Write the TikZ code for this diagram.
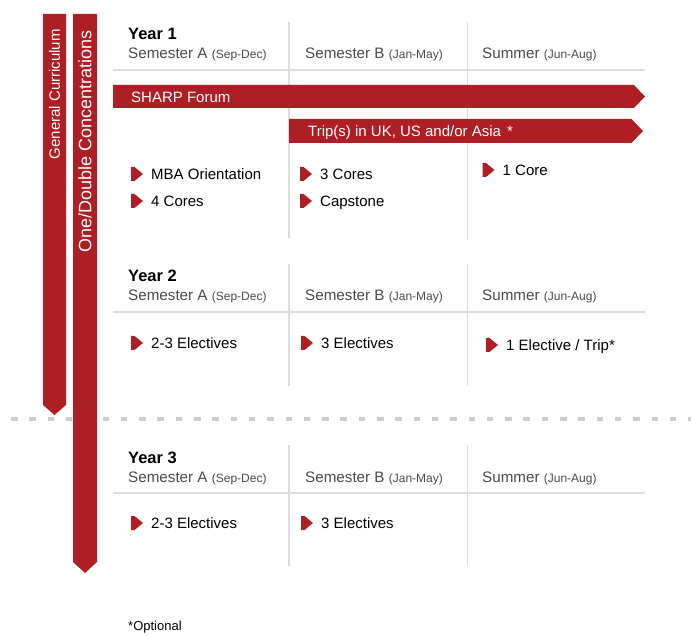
\documentclass[tikz,border=0pt]{standalone}
\usepackage{fontspec}
\setmainfont{Liberation Sans}

\definecolor{sharpred}{HTML}{AD1F25}
\definecolor{gridgray}{HTML}{DCDCDC}
\definecolor{semgray}{HTML}{4A4A4A}
\definecolor{dashgray}{HTML}{CDCDCD}

\newcommand{\months}[1]{{\fontsize{12}{14}\selectfont(#1)}}

\begin{document}
\begin{tikzpicture}[x=1pt, y=-1pt]

    \useasboundingbox (0,0) rectangle (691,636);

    \tikzset{yearstyle/.style={anchor=base west, inner sep=0, font=\fontsize{16.5}{18}\selectfont\bfseries}}
    \tikzset{semstyle/.style={anchor=base west, inner sep=0, text=semgray, font=\fontsize{15.2}{18}\selectfont}}
    \tikzset{itemstyle/.style={anchor=west, inner sep=0, text height=11pt, text depth=0pt, font=\fontsize{15}{18}\selectfont}}
    \tikzset{bandtext/.style={anchor=west, inner sep=0, text height=11pt, text depth=0pt, text=white, font=\fontsize{15}{18}\selectfont}}
    \tikzset{sidetext/.style={anchor=east, inner sep=0, rotate=90, text=white}}
    \tikzset{gridline/.style={draw=gridgray, line width=1.5pt}}
    \tikzset{itemmark/.pic={\fill[sharpred] (-0.5,-7) -- (3,-7) -- (11.5,0) -- (3,7) -- (-0.5,7) -- cycle;}}

    % dashed separator
    \draw[dashgray, line width=3.5pt, dash pattern=on 6.5pt off 11.8pt] (11,419) -- (691,419);

    % side bars
    \fill[sharpred] (43,14) -- (66,14) -- (66,405) -- (54.5,415) -- (43,405) -- cycle;
    \fill[sharpred] (73,14) -- (97,14) -- (97,562) -- (85,573) -- (73,562) -- cycle;
    \node[sidetext, font=\fontsize{15}{18}\selectfont] (gc) at (54.5,29) {General Curriculum};
    \node[sidetext, font=\fontsize{18}{20}\selectfont] (odc) at (85,30) {One/Double Concentrations};

    % grid lines
    \draw[gridline] (113,70) -- (645,70);
    \draw[gridline] (289,22) -- (289,238);
    \draw[gridline] (467.5,22) -- (467.5,240);

    \draw[gridline] (113,312) -- (645,312);
    \draw[gridline] (289,264) -- (289,386);
    \draw[gridline] (467.5,264) -- (467.5,386);

    \draw[gridline] (113,493) -- (645,493);
    \draw[gridline] (289,445) -- (289,566);
    \draw[gridline] (467.5,445) -- (467.5,566);

    % bands
    \fill[sharpred] (113,85) -- (634,85) -- (645,96.5) -- (634,108) -- (113,108) -- cycle;
    \fill[sharpred] (289,119) -- (631.5,119) -- (643,131) -- (631.5,143) -- (289,143) -- cycle;
    \node[bandtext] (sharp) at (131,97) {SHARP Forum};
    \node[bandtext] (trip) at (308,131) {Trip(s) in UK, US and/or Asia\hspace{6pt}*};

    % Year 1
    \node[yearstyle] (y1) at (128,40) {Year 1};
    \node[semstyle] (y1a) at (128,59) {Semester A \months{Sep-Dec}};
    \node[semstyle] (y1b) at (305,59) {Semester B \months{Jan-May}};
    \node[semstyle] (y1c) at (482,59) {Summer \months{Jun-Aug}};

    \node[itemstyle] (mba) at (151,174) {MBA Orientation};
    \node[itemstyle] (core4) at (151,201) {4 Cores};
    \node[itemstyle] (core3) at (320,174) {3 Cores};
    \node[itemstyle] (cap) at (320,201) {Capstone};
    \node[itemstyle] (core1) at (502.5,170) {1 Core};

    % Year 2
    \node[yearstyle] (y2) at (128,282) {Year 2};
    \node[semstyle] (y2a) at (128,301) {Semester A \months{Sep-Dec}};
    \node[semstyle] (y2b) at (305,301) {Semester B \months{Jan-May}};
    \node[semstyle] (y2c) at (482,301) {Summer \months{Jun-Aug}};

    \node[itemstyle] (el2a) at (151,343) {2-3 Electives};
    \node[itemstyle] (el2b) at (321,343) {3 Electives};
    \node[itemstyle] (el2c) at (506,345) {1 Elective / Trip*};

    % Year 3
    \node[yearstyle] (y3) at (128,463) {Year 3};
    \node[semstyle] (y3a) at (128,482) {Semester A \months{Sep-Dec}};
    \node[semstyle] (y3b) at (305,482) {Semester B \months{Jan-May}};
    \node[semstyle] (y3c) at (482,482) {Summer \months{Jun-Aug}};

    \node[itemstyle] (el3a) at (151,523) {2-3 Electives};
    \node[itemstyle] (el3b) at (321,523) {3 Electives};

    % item marks
    \foreach \it in {mba, core4, core3, cap, core1, el2a, el2b, el2c, el3a, el3b}
        \pic at ([xshift=-19.5pt]\it.west) {itemmark};

    \node[anchor=west, inner sep=0, font=\fontsize{13}{15}\selectfont] (opt) at (128,627) {*Optional};

\end{tikzpicture}
\end{document}
